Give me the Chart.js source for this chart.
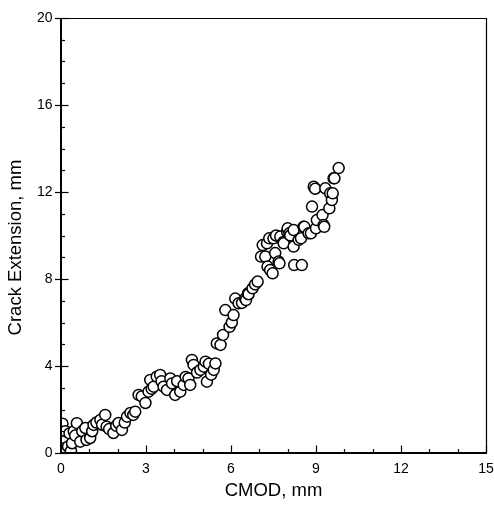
<!DOCTYPE html>
<html>
<head>
<meta charset="utf-8">
<script src="https://cdn.jsdelivr.net/npm/chart.js@4/dist/chart.umd.min.js"></script>
<style>
  html, body { margin: 0; padding: 0; background: #fff; }
  #wrap { width: 494px; height: 509px; }
</style>
</head>
<body>
<div id="wrap"><canvas id="crackChart" width="494" height="509"></canvas></div>
<script>
// CMOD (mm) and crack extension (mm)
const cmod = [
  0.0, 0.02, 0.0, 0.05, 0.1, 0.15, 0.25, 0.3, 0.35, 0.39, 0.45, 0.56, 0.5, 0.68, 0.75, 0.86, 0.9, 1.03, 1.1, 1.15,
  1.25, 1.39, 1.45, 1.56, 1.61, 1.7, 1.85, 1.95, 2.03, 2.15, 2.25, 2.33, 2.45, 2.55, 2.62, 2.74, 2.85, 2.98, 3.09, 3.15,
  3.2, 3.27, 3.38, 3.5, 3.55, 3.62, 3.74, 3.86, 3.92, 4.03, 4.1, 4.21, 4.33, 4.4, 4.5, 4.56, 4.62, 4.68, 4.8, 4.92,
  5.04, 5.1, 5.15, 5.22, 5.3, 5.39, 5.45, 5.5, 5.63, 5.72, 5.8, 5.95, 6.03, 6.09, 6.15, 6.27, 6.39, 6.5, 6.53, 6.6,
  6.62, 6.76, 6.85, 6.94, 7.06, 7.12, 7.21, 7.27, 7.29, 7.35, 7.38, 7.47, 7.5, 7.56, 7.59, 7.68, 7.71, 7.74, 7.85, 7.86,
  7.98, 8.0, 8.06, 8.09, 8.21, 8.23, 8.21, 8.39, 8.47, 8.5, 8.56, 8.59, 8.74, 8.82, 8.86, 8.92, 8.97, 9.0, 9.03, 9.23,
  9.27, 9.29, 9.33, 9.47, 9.5, 9.56, 9.59, 9.62, 9.65, 9.8
];
const crackExt = [
  0.15, 0.5, 0.9, 1.35, 0.7, 1.0, 0.3, 0.9, 0.1, 0.45, 1.0, 1.37, 0.8, 0.52, 1.0, 1.15, 0.6, 0.69, 1.0, 1.29,
  1.4, 1.52, 1.3, 1.75, 1.21, 1.1, 0.92, 1.25, 1.38, 1.06, 1.4, 1.67, 1.84, 1.75, 1.9, 2.67, 2.6, 2.3, 2.82, 3.36,
  2.95, 3.05, 3.51, 3.59, 3.3, 3.05, 2.9, 3.43, 3.2, 2.67, 3.3, 2.82, 3.13, 3.5, 3.43, 3.13, 4.28, 4.05, 3.7, 3.82,
  3.97, 4.2, 3.28, 4.1, 3.6, 3.82, 4.12, 5.04, 4.97, 5.43, 6.57, 5.8, 6.0, 6.34, 7.1, 6.88, 6.9, 7.1, 7.03, 7.34,
  7.3, 7.57, 7.75, 7.88, 9.03, 9.56, 9.03, 9.64, 8.57, 9.87, 8.41, 8.26, 9.87, 9.19, 10.0, 8.8, 8.72, 9.95, 9.7, 9.64,
  10.17, 10.33, 10.1, 10.0, 9.49, 8.64, 10.25, 9.8, 9.87, 8.64, 10.4, 10.4, 10.1, 10.1, 11.33, 12.24, 12.15, 10.33, 10.71, 10.94,
  10.48, 10.4, 12.17, 11.25, 11.94, 11.63, 11.94, 12.63, 12.63, 13.1
];
const xTicks = [0, 3, 6, 9, 12, 15];
const yTicks = [0, 4, 8, 12, 16, 20];
const yTitle = "Crack Extension, mm";

const fontFamily = "'Liberation Sans', Arial, Helvetica, sans-serif";

// frame and inward tick marks, like the original plot
const frameAndTicks = {
  id: 'frameAndTicks',
  afterDatasetsDraw(chart) {
    const { ctx, chartArea: a, scales: { x, y } } = chart;
    ctx.save();
    ctx.strokeStyle = '#000';
    ctx.lineCap = 'butt';

    ctx.lineWidth = 1.2;
    for (let v = 0; v <= 15; v++) {
      const px = Math.round(x.getPixelForValue(v)) + 0.5;
      const len = xTicks.includes(v) ? 7.5 : 4;
      ctx.beginPath();
      ctx.moveTo(px, a.bottom);
      ctx.lineTo(px, a.bottom - len);
      ctx.stroke();
    }
    for (let v = 0; v <= 20; v++) {
      const py = Math.round(y.getPixelForValue(v)) + 0.5;
      const major = yTicks.includes(v);
      ctx.beginPath();
      ctx.moveTo(major ? a.left - 6 : a.left, py);
      ctx.lineTo(a.left + (major ? 7.5 : 4), py);
      ctx.stroke();
    }

    // top and right edges thin, left and bottom heavier
    ctx.lineWidth = 1.2;
    ctx.beginPath();
    ctx.moveTo(a.left, a.top + 0.5);
    ctx.lineTo(a.right + 0.5, a.top + 0.5);
    ctx.lineTo(a.right + 0.5, a.bottom);
    ctx.stroke();
    ctx.lineWidth = 2;
    ctx.beginPath();
    ctx.moveTo(a.left, a.top);
    ctx.lineTo(a.left, a.bottom);
    ctx.lineTo(a.right + 1, a.bottom);
    ctx.stroke();

    // y title sits a bit below the middle of the axis in the original
    ctx.fillStyle = '#000';
    ctx.font = "18.5px " + fontFamily;
    ctx.textAlign = 'center';
    ctx.textBaseline = 'middle';
    ctx.translate(16, (a.top + a.bottom) / 2 + 12);
    ctx.rotate(-Math.PI / 2);
    ctx.fillText(yTitle, 0, 0);
    ctx.restore();
  }
};

document.addEventListener("DOMContentLoaded", function () {
  const ctx = document.getElementById("crackChart").getContext("2d");

  new Chart(ctx, {
    type: "scatter",
    data: {
      datasets: [{
        label: "Crack Extension",
        data: cmod.map((v, i) => ({ x: v, y: crackExt[i] })),
        pointStyle: "circle",
        pointRadius: 5.5,
        pointBorderWidth: 1.5,
        pointBackgroundColor: "#fff",
        pointBorderColor: "#000"
      }]
    },
    options: {
      responsive: false,
      animation: false,
      events: [],
      layout: { padding: { left: 0, right: 8, top: 18, bottom: 0 } },
      plugins: { legend: { display: false }, tooltip: { enabled: false } },
      scales: {
        x: {
          type: "linear",
          min: 0, max: 15,
          afterBuildTicks: (s) => { s.ticks = xTicks.map(v => ({ value: v })); },
          afterFit: (s) => { s.height = 56; s.paddingLeft = 0; s.paddingRight = 0; },
          grid: { display: false, drawTicks: false },
          border: { display: false },
          ticks: { color: "#000", padding: 8, maxRotation: 0, font: { family: fontFamily, size: 14 } },
          title: {
            display: true, text: "CMOD, mm", color: "#000",
            padding: { top: 0, bottom: 7 },
            font: { family: fontFamily, size: 18.5 }
          }
        },
        y: {
          type: "linear",
          min: 0, max: 20,
          afterBuildTicks: (s) => { s.ticks = yTicks.map(v => ({ value: v })); },
          afterFit: (s) => { s.width = 61; s.paddingTop = 0; s.paddingBottom = 0; },
          grid: { display: false, drawTicks: false },
          border: { display: false },
          ticks: { color: "#000", padding: 8.5, font: { family: fontFamily, size: 14 } },
          title: { display: false }
        }
      }
    },
    plugins: [frameAndTicks]
  });
});
</script>
</body>
</html>
